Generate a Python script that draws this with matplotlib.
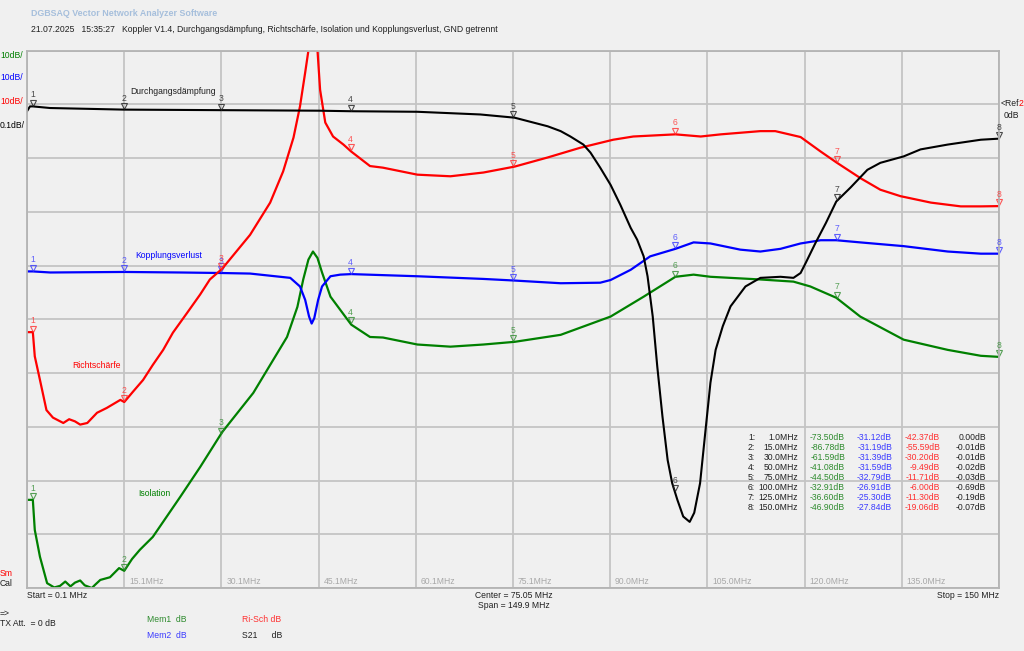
import numpy as np
import matplotlib.pyplot as plt
from matplotlib.transforms import offset_copy

f_start, f_stop = 0.1, 150.0
ref_div = 9            # 0 dB liegt auf der 9. Teilung von unten

# Isolation (Mem1), 10 dB/div
iso_f = [0.1, 1.0, 1.3, 2.1, 3.2, 4.3, 5.2, 6.0, 6.8, 7.5, 8.3, 9.0, 10.1, 10.6, 11.4,
         12.9, 14.3, 15.1, 16.3, 17.5, 19.5, 23.7, 26.8, 30.2, 35.0, 38.1, 40.2, 41.8,
         42.7, 43.5, 44.2, 44.9, 45.6, 46.9, 50.1, 53.0, 55.0, 60.3, 65.4, 70.5, 75.3,
         82.4, 90.1, 95.2, 100.1, 102.9, 105.5, 113.2, 118.3, 120.9, 124.9, 128.6,
         135.3, 142.1, 147.2, 150.0]
iso_db = [-73.6, -73.6, -79.2, -84.2, -89.1, -89.9, -89.6, -88.8, -89.7, -89.0, -88.6,
          -89.5, -90.0, -89.4, -88.5, -88.0, -86.3, -86.8, -84.6, -82.9, -80.5, -73.1,
          -67.5, -61.0, -53.7, -47.5, -43.3, -37.7, -32.6, -28.9, -27.4, -28.6, -31.3,
          -35.8, -41.0, -43.3, -43.4, -44.7, -45.1, -44.7, -44.2, -42.9, -39.5, -35.8,
          -32.1, -31.7, -32.1, -32.6, -33.0, -33.9, -36.0, -39.5, -43.8, -45.7, -46.8,
          -47.0]

# Kopplungsverlust (Mem2), 10 dB/div
kop_f = [0.1, 1.0, 3.7, 15.1, 23.7, 30.2, 34.5, 37.6, 40.7, 42.2, 43.0, 43.6, 44.0,
         44.4, 45.0, 45.6, 46.9, 48.4, 50.1, 60.3, 70.5, 75.3, 82.4, 88.5, 90.1, 93.2,
         96.2, 100.1, 102.9, 105.5, 110.1, 113.2, 116.3, 119.4, 122.5, 124.9, 128.6,
         135.3, 142.1, 147.2, 150.0]
kop_db = [-31.1, -31.1, -31.3, -31.2, -31.3, -31.4, -31.5, -31.9, -32.3, -33.9, -36.4,
          -39.5, -40.8, -39.8, -36.4, -33.9, -32.0, -31.7, -31.6, -32.0, -32.5, -32.8,
          -33.3, -33.2, -32.7, -30.8, -28.3, -26.9, -25.7, -25.9, -27.05, -27.4, -26.9,
          -25.9, -25.3, -25.3, -25.7, -26.4, -27.4, -27.8, -27.8]

# Richtschärfe (Ri-Sch), 10 dB/div
ri_f = [0.1, 1.0, 1.3, 2.1, 3.1, 4.1, 5.7, 6.6, 7.5, 8.3, 9.4, 10.9, 12.4, 14.5, 15.1,
        16.5, 18.0, 19.5, 21.1, 22.6, 24.8, 26.8, 28.3, 30.2, 34.5, 37.6, 39.6, 41.2,
        42.2, 43.0, 43.5, 44.2, 44.9, 45.3, 46.1, 47.3, 48.9, 50.1, 53.0, 55.0, 60.3,
        65.4, 70.5, 75.3, 80.4, 85.4, 90.5, 93.6, 100.1, 104.0, 107.1, 113.2, 115.5,
        119.4, 122.5, 124.9, 128.7, 131.7, 134.8, 139.5, 144.1, 147.2, 150.0]
ri_db = [-42.4, -42.4, -46.9, -51.3, -56.9, -58.3, -59.3, -58.6, -59.0, -59.6, -59.3,
         -57.4, -56.5, -55.0, -55.4, -53.4, -51.3, -48.5, -45.7, -42.5, -38.8, -35.4,
         -32.6, -30.6, -24.3, -18.3, -12.5, -6.2, -0.4, 5.9, 10.0, 16.0, 10.0, 2.7, -3.4,
         -6.0, -7.5, -8.8, -11.5, -11.8, -13.1, -13.4, -12.7, -11.6, -9.9, -8.1, -6.6,
         -6.0, -5.6, -6.0, -5.6, -5.0, -5.0, -6.1, -8.8, -10.8, -13.8, -15.9, -17.1,
         -18.3, -19.0, -19.0, -18.95]

# Durchgangsdämpfung (S21), 0.1 dB/div
s21_f = [0.1, 0.56, 1.0, 3.65, 15.1, 30.2, 45.2, 50.1, 60.3, 70.0, 75.3, 80.4, 82.4,
         83.9, 85.9, 87.0, 88.5, 90.1, 91.6, 93.2, 94.2, 95.2, 95.8, 96.6, 97.3, 98.1,
         98.9, 99.6, 100.4, 101.3, 102.3, 103.0, 103.9, 104.7, 105.5, 106.3, 107.4,
         108.6, 110.9, 113.2, 116.3, 118.3, 119.4, 120.2, 121.7, 123.3, 124.9, 127.1,
         129.7, 131.7, 135.3, 137.9, 142.1, 147.2, 150.0]
s21_db = [-0.013, -0.004, -0.004, -0.007, -0.010, -0.011, -0.012, -0.013, -0.014,
          -0.019, -0.025, -0.041, -0.050, -0.060, -0.075, -0.090, -0.118, -0.150,
          -0.187, -0.230, -0.252, -0.283, -0.320, -0.395, -0.488, -0.581, -0.662,
          -0.705, -0.736, -0.767, -0.777, -0.760, -0.705, -0.611, -0.518, -0.457,
          -0.413, -0.376, -0.339, -0.323, -0.321, -0.323, -0.314, -0.295, -0.258,
          -0.221, -0.181, -0.155, -0.122, -0.109, -0.097, -0.084, -0.075, -0.066, -0.064]

# Marker-Tabelle
marker_f = [1.0, 15.0, 30.0, 50.0, 75.0, 100.0, 125.0, 150.0]
marker_lbl = ["1.0MHz", "15.0MHz", "30.0MHz", "50.0MHz", "75.0MHz", "100.0MHz",
              "125.0MHz", "150.0MHz"]
tab_iso = [-73.50, -86.78, -61.59, -41.08, -44.50, -32.91, -36.60, -46.90]
tab_kop = [-31.12, -31.19, -31.39, -31.59, -32.79, -26.91, -25.30, -27.84]
tab_ri = [-42.37, -55.59, -30.20, -9.49, -11.71, -6.00, -11.30, -19.06]
tab_s21 = [0.00, -0.01, -0.01, -0.02, -0.03, -0.69, -0.19, -0.07]

xtick_lbl = ["15.1MHz", "30.1MHz", "45.1MHz", "60.1MHz", "75.1MHz", "90.0MHz",
             "105.0MHz", "120.0MHz", "135.0MHz"]

# ---------- Farben ----------
bg = "#f0f0f0"
c_grn, c_blu, c_red, c_blk = "#008000", "#0000ff", "#ff0000", "#000000"
t_grn, t_blu, t_red, t_blk = "#2e8b2e", "#3a3aff", "#ff3030", "#202020"

plt.rcParams["font.family"] = ["Liberation Sans", "DejaVu Sans"]
FS = 6.2

W, H = 1024, 651
fig = plt.figure(figsize=(W / 100, H / 100), dpi=100, facecolor=bg)

L, R, T, B = 27, 999, 50.5, 588
ax = fig.add_axes([L / W, 1 - B / H, (R - L) / W, (B - T) / H], facecolor=bg)
ax.set_xlim(f_start, f_stop)
ax.set_ylim(0, 10)
grid_f = f_start + np.arange(11) * (f_stop - f_start) / 10
ax.set_xticks(grid_f)
ax.set_yticks(np.arange(11))
ax.tick_params(length=0, labelbottom=False, labelleft=False)
ax.grid(True, color="#c4c4c4", lw=1.3)
for s in ax.spines.values():
    s.set_color("#b4b4b4")
    s.set_linewidth(1.3)


def to_div(db, scale):
    return ref_div + np.asarray(db) / scale


traces = [
    (iso_f, iso_db, 10, c_grn, t_grn, 1.6),
    (kop_f, kop_db, 10, c_blu, t_blu, 1.6),
    (ri_f, ri_db, 10, c_red, t_red, 1.6),
    (s21_f, s21_db, 0.1, c_blk, t_blk, 1.5),
]

tri = offset_copy(ax.transData, fig=fig, x=0, y=2.6, units="points")
for f, db, sc, col, tcol, lw in traces:
    yd = to_div(db, sc)
    ax.plot(f, yd, color=col, lw=lw, solid_joinstyle="round")
    ym = np.interp(marker_f, f, yd)
    ax.plot(marker_f, ym, ls="none", marker="v", ms=5, mfc="none", mec=tcol,
            mew=0.8, transform=tri, clip_on=False, alpha=0.8)
    for i, (mf, my) in enumerate(zip(marker_f, ym)):
        ax.annotate(str(i + 1), (mf, my), xytext=(0, 5), textcoords="offset points",
                    ha="center", va="bottom", fontsize=FS, color=tcol, alpha=0.8,
                    annotation_clip=False)

# x-Beschriftungen innerhalb des Diagramms
for gf, lbl in zip(grid_f[1:], xtick_lbl):
    ax.annotate(lbl, (gf, 0), xytext=(3.5, 1.5), textcoords="offset points",
                ha="left", va="bottom", fontsize=FS, color="#a8a8a8")


def txt(x, y, s, **kw):
    kw.setdefault("fontsize", FS)
    kw.setdefault("va", "center")
    fig.text(x / W, 1 - y / H, s, **kw)


txt(31, 13, "DGBSAQ Vector Network Analyzer Software", color="#a6bfdc",
    fontweight="bold", fontsize=6.4)
txt(31, 29, "21.07.2025   15:35:27   Koppler V1.4, Durchgangsdämpfung, Richtschärfe, "
    "Isolation und Kopplungsverlust, GND getrennt", color="#202020")

txt(0, 55, "10dB/", color=c_grn)
txt(0, 78, "10dB/", color=c_blu)
txt(0, 101, "10dB/", color=c_red)
txt(0, 125, "0.1dB/", color=c_blk)

txt(1001, 103, "<Ref", color="#202020")
txt(1019, 103, "2", color=c_red)
txt(1004, 115, "0dB", color="#202020")

txt(130, 91, "Durchgangsdämpfung", color="#202020")
txt(135, 255, "Kopplungsverlust", color=c_blu)
txt(72, 365, "Richtschärfe", color=c_red)
txt(138, 493, "Isolation", color=c_grn)

txt(0, 573, "Sm", color=c_red)
txt(0, 583, "Cal", color="#202020")

txt(27, 595, "Start = 0.1 MHz", color="#202020")
txt(514, 595, "Center = 75.05 MHz", color="#202020", ha="center")
txt(514, 605, "Span = 149.9 MHz", color="#202020", ha="center")
txt(999, 595, "Stop = 150 MHz", color="#202020", ha="right")
txt(0, 613, "=>", color="#202020")
txt(0, 623, "TX Att.  = 0 dB", color="#202020")
txt(147, 620, "Mem1  dB", color=t_grn)
txt(147, 636, "Mem2  dB", color=t_blu)
txt(242, 620, "Ri-Sch dB", color=t_red)
txt(242, 636, "S21      dB", color="#202020")

# Marker-Tabelle
for i in range(len(marker_f)):
    y = 437 + 10 * i
    txt(748, y, f"{i + 1}:", color="#202020")
    txt(798, y, marker_lbl[i], color="#202020", ha="right")
    txt(845, y, f"{tab_iso[i]:.2f}dB", color=t_grn, ha="right")
    txt(892, y, f"{tab_kop[i]:.2f}dB", color=t_blu, ha="right")
    txt(940, y, f"{tab_ri[i]:.2f}dB", color=t_red, ha="right")
    txt(986, y, f"{tab_s21[i]:.2f}dB", color="#202020", ha="right")

fig.savefig("out.png", dpi=100, facecolor=bg)
